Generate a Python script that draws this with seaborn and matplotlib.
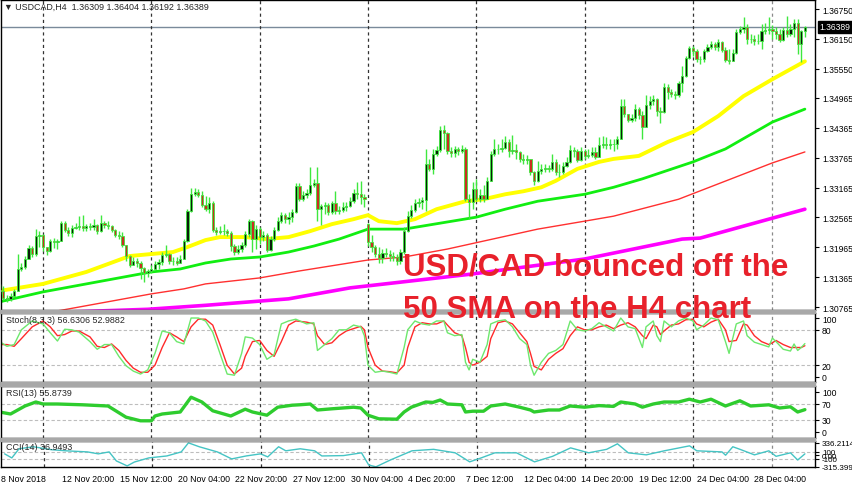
import numpy as np
import pandas as pd
import matplotlib
matplotlib.use("Agg")
import matplotlib.pyplot as plt
import matplotlib.transforms as mtransforms
from matplotlib.patches import Rectangle
import seaborn as sns

# ---------------------------------------------------------------
# USDCAD H4 (precios en pips sobre 1.3000)
# ---------------------------------------------------------------
opens = [110, 109, 95, 93, 99, 109, 153, 157, 173, 195,
         183, 219, 221, 197, 189, 209, 207, 209, 245, 231,
         225, 235, 237, 239, 235, 239, 237, 241, 229, 245,
         241, 239, 231, 221, 219, 201, 179, 161, 169, 165,
         155, 145, 149, 153, 163, 167, 181, 183, 169, 169,
         165, 173, 209, 269, 303, 307, 301, 281, 273, 285,
         231, 227, 229, 229, 225, 199, 187, 193, 201, 223,
         249, 213, 233, 217, 221, 191, 213, 231, 249, 261,
         253, 257, 267, 320, 293, 301, 305, 322, 326, 273,
         279, 281, 267, 285, 269, 271, 277, 279, 289, 305,
         303, 297, 243, 207, 197, 183, 175, 185, 183, 179,
         177, 169, 187, 229, 259, 271, 285, 287, 291, 364,
         354, 384, 392, 432, 426, 390, 386, 394, 390, 394,
         293, 287, 313, 293, 301, 293, 330, 384, 394, 394,
         396, 408, 390, 392, 388, 374, 372, 374, 348, 330,
         350, 354, 356, 354, 368, 348, 348, 360, 368, 392,
         390, 372, 390, 380, 382, 388, 378, 402, 404, 402,
         404, 404, 414, 480, 464, 452, 456, 474, 462, 438,
         482, 490, 494, 470, 468, 518, 508, 504, 502, 526,
         540, 577, 597, 591, 575, 575, 591, 599, 605, 599,
         609, 593, 573, 571, 587, 629, 635, 639, 615, 615,
         611, 611, 631, 633, 635, 631, 625, 613, 633, 625,
         635, 647, 605, 631]
closes = [109, 95, 93, 99, 109, 153, 157, 173, 195, 183,
          219, 221, 197, 189, 209, 207, 209, 245, 231, 225,
          235, 237, 239, 235, 239, 237, 241, 229, 245, 241,
          239, 231, 221, 219, 201, 179, 161, 169, 165, 155,
          145, 149, 153, 163, 167, 181, 183, 169, 169, 165,
          173, 209, 269, 303, 307, 301, 281, 273, 285, 231,
          227, 229, 229, 225, 199, 187, 193, 201, 223, 249,
          213, 233, 217, 221, 191, 213, 231, 249, 261, 253,
          257, 267, 320, 293, 301, 305, 322, 326, 273, 279,
          281, 267, 285, 269, 271, 277, 279, 289, 305, 303,
          297, 293, 207, 197, 183, 175, 185, 183, 179, 177,
          169, 187, 229, 259, 271, 285, 287, 291, 364, 354,
          384, 392, 432, 426, 390, 386, 394, 390, 394, 293,
          287, 313, 293, 301, 293, 330, 384, 394, 394, 396,
          408, 390, 392, 388, 374, 372, 374, 348, 330, 350,
          354, 356, 354, 368, 348, 348, 360, 368, 392, 390,
          372, 390, 380, 382, 388, 378, 402, 404, 402, 404,
          404, 414, 480, 464, 452, 456, 474, 462, 438, 482,
          490, 494, 470, 468, 518, 508, 504, 502, 526, 540,
          577, 597, 591, 575, 575, 591, 599, 605, 599, 609,
          593, 573, 571, 587, 629, 635, 639, 615, 615, 611,
          611, 631, 633, 635, 631, 625, 613, 633, 625, 635,
          647, 605, 631, 639]
highs = [123, 119, 101, 105, 113, 183, 165, 179, 201, 199,
         233, 229, 223, 197, 213, 215, 213, 249, 249, 237,
         241, 245, 259, 261, 243, 245, 253, 243, 261, 249,
         249, 241, 233, 229, 227, 201, 181, 177, 175, 169,
         157, 153, 161, 169, 173, 187, 201, 185, 177, 177,
         181, 213, 273, 315, 315, 313, 309, 299, 297, 289,
         237, 239, 243, 233, 229, 203, 201, 207, 229, 253,
         251, 241, 237, 229, 225, 219, 237, 257, 267, 265,
         267, 273, 326, 326, 309, 313, 358, 334, 358, 283,
         287, 285, 289, 309, 279, 287, 287, 297, 313, 328,
         330, 303, 245, 221, 201, 197, 193, 195, 191, 187,
         183, 193, 237, 269, 281, 293, 295, 297, 394, 374,
         394, 400, 440, 442, 428, 398, 400, 398, 402, 398,
         303, 327, 334, 313, 321, 338, 390, 414, 404, 414,
         420, 414, 422, 404, 390, 384, 382, 374, 350, 370,
         364, 364, 362, 384, 374, 364, 368, 378, 402, 398,
         394, 398, 394, 394, 398, 398, 418, 420, 418, 414,
         414, 420, 494, 494, 464, 464, 484, 478, 470, 502,
         500, 502, 496, 478, 526, 524, 514, 510, 530, 560,
         581, 601, 601, 595, 581, 595, 605, 611, 609, 615,
         611, 599, 595, 595, 635, 641, 659, 645, 625, 623,
         625, 645, 647, 659, 643, 639, 635, 639, 661, 645,
         655, 655, 633, 640]
lows = [103, 91, 87, 89, 97, 109, 149, 153, 173, 177,
        179, 197, 189, 181, 187, 195, 193, 209, 227, 219,
        217, 233, 231, 229, 229, 231, 231, 223, 227, 235,
        233, 227, 217, 213, 197, 169, 157, 161, 157, 133,
        127, 137, 145, 153, 153, 161, 177, 163, 161, 161,
        165, 173, 207, 267, 299, 297, 277, 269, 265, 227,
        221, 223, 221, 219, 189, 181, 183, 187, 197, 217,
        187, 193, 203, 209, 187, 189, 209, 229, 245, 245,
        243, 247, 265, 289, 289, 295, 301, 317, 249, 241,
        263, 261, 263, 263, 263, 267, 269, 277, 285, 293,
        283, 277, 199, 187, 177, 165, 165, 177, 169, 169,
        161, 163, 183, 227, 255, 267, 277, 273, 269, 350,
        344, 380, 388, 394, 384, 378, 378, 382, 386, 289,
        253, 273, 289, 287, 287, 293, 330, 380, 384, 388,
        394, 378, 384, 374, 368, 364, 364, 342, 321, 328,
        344, 348, 348, 350, 342, 338, 344, 358, 366, 378,
        368, 370, 374, 376, 378, 374, 378, 396, 394, 394,
        390, 394, 414, 458, 448, 448, 450, 454, 414, 438,
        474, 482, 460, 446, 466, 494, 498, 494, 498, 509,
        538, 575, 581, 568, 564, 568, 589, 595, 593, 591,
        589, 568, 564, 575, 585, 625, 627, 605, 607, 603,
        605, 595, 625, 625, 615, 615, 609, 611, 619, 621,
        619, 585, 568, 619]

# medias moviles (barra, pips)
sma50_idx = [0, 12, 24, 30, 36, 42, 48, 52, 57, 61, 68, 74, 80, 86, 92, 98, 102, 105, 110,
             115, 121, 129, 134, 140, 145, 150, 154, 160, 166, 170, 177, 185, 192, 199, 206, 214, 223]
sma50_val = [109, 123, 147, 163, 179, 183, 187, 197, 211, 217, 217, 213, 217, 229, 243, 253, 261, 249, 245,
             253, 273, 289, 293, 303, 309, 317, 330, 354, 368, 374, 380, 408, 428, 460, 500, 534, 570]
sma100_idx = [0, 12, 24, 36, 42, 50, 57, 64, 72, 80, 87, 94, 102, 112, 122, 132, 140, 149, 162,
              170, 178, 192, 201, 214, 223]
sma100_val = [87, 107, 123, 139, 147, 153, 165, 173, 177, 187, 199, 213, 233, 233, 245, 257, 273, 289, 303,
              317, 334, 368, 394, 448, 474]
sma200_idx = [0, 17, 42, 51, 57, 72, 83, 102, 112, 124, 134, 149, 162, 170, 188, 214, 223]
sma200_val = [50, 70, 103, 113, 123, 135, 149, 171, 177, 193, 209, 233, 249, 259, 293, 366, 388]
sma400_idx = [0, 41, 57, 80, 97, 131, 162, 189, 194, 214, 223]
sma400_val = [62, 72, 80, 93, 115, 143, 173, 213, 215, 255, 273]

# Estocastico (8,3,3)
stoch_idx = [0, 2, 4, 6, 9, 12, 14, 16, 18, 20, 22, 25, 27, 29, 31, 33, 35, 37, 39, 41,
             43, 45, 47, 49, 51, 53, 55, 57, 59, 61, 63, 65, 67, 68, 70, 72, 74, 76, 78, 80,
             82, 85, 87, 88, 90, 92, 94, 96, 98, 100, 101, 102, 104, 106, 108, 110, 112, 113, 115, 117,
             119, 121, 123, 124, 126, 128, 129, 130, 131, 133, 135, 136, 138, 140, 142, 144, 146, 147, 148, 150,
             152, 154, 156, 158, 160, 162, 164, 166, 168, 170, 172, 174, 176, 178, 179, 181, 182, 183, 184, 186,
             188, 190, 192, 193, 195, 197, 199, 201, 202, 204, 206, 207, 209, 211, 213, 214, 215, 217, 219, 220,
             221, 222, 223]
stoch_k = [60, 52, 55, 80, 95, 90, 75, 61, 81, 80, 76, 60, 47, 55, 55, 35, 19, 10, 5, 12,
           40, 78, 75, 60, 56, 100, 100, 95, 76, 40, 5, 3, 40, 68, 66, 55, 30, 38, 90, 95,
           98, 90, 92, 45, 55, 65, 80, 80, 88, 85, 70, 20, 8, 10, 8, 5, 50, 80, 95, 90,
           88, 95, 95, 75, 70, 72, 25, 12, 30, 25, 55, 90, 95, 97, 85, 65, 55, 20, 3, 25,
           40, 45, 55, 95, 80, 78, 82, 92, 85, 78, 100, 85, 82, 50, 85, 95, 70, 60, 95, 85,
           95, 100, 95, 80, 88, 100, 97, 60, 40, 90, 95, 70, 59, 55, 51, 66, 60, 47, 44, 56,
           45, 50, 56.6306]
stoch_d = [55, 55, 52, 65, 85, 95, 85, 70, 72, 78, 78, 68, 52, 50, 56, 45, 28, 15, 8, 8,
           20, 50, 75, 68, 60, 85, 98, 98, 88, 55, 20, 5, 15, 35, 60, 62, 45, 35, 60, 88,
           95, 93, 90, 70, 55, 58, 70, 78, 82, 86, 80, 50, 20, 10, 9, 7, 20, 50, 85, 92,
           90, 90, 95, 88, 75, 70, 50, 25, 20, 25, 35, 65, 92, 95, 90, 75, 60, 40, 18, 12,
           30, 40, 48, 70, 85, 80, 80, 85, 88, 82, 88, 92, 85, 70, 65, 88, 85, 72, 78, 88,
           90, 97, 98, 90, 85, 93, 98, 80, 60, 62, 90, 88, 70, 60, 55, 58, 62, 55, 50, 50,
           50, 50, 52.9882]

# RSI(13)
rsi_idx = [0, 3, 7, 10, 12, 16, 23, 30, 35, 39, 42, 43, 45, 50, 53, 56, 59, 64, 68, 70,
           74, 77, 81, 83, 86, 88, 92, 98, 100, 102, 105, 110, 112, 114, 118, 120, 122, 124, 128, 129,
           131, 134, 136, 140, 144, 147, 148, 152, 155, 158, 162, 166, 170, 172, 176, 178, 181, 184, 188, 191,
           194, 197, 201, 205, 208, 213, 216, 219, 221, 223]
rsi_val = [50, 45, 65, 75, 70, 70, 68, 65, 37, 28, 28, 40, 45, 50, 87, 75, 53, 40, 57, 50,
           42, 62, 67, 68, 70, 55, 58, 62, 60, 42, 33, 32, 50, 62, 75, 74, 80, 70, 68, 50,
           52, 52, 65, 70, 62, 55, 50, 55, 55, 65, 62, 66, 64, 75, 70, 62, 70, 75, 75, 82,
           75, 82, 65, 78, 65, 68, 60, 63, 50, 55.8739]

# CCI(14)
cci_idx = [1, 3, 5, 9, 14, 18, 24, 27, 30, 32, 35, 37, 41, 46, 50, 52, 55, 60, 64, 68,
           72, 74, 77, 79, 83, 87, 89, 95, 100, 102, 104, 108, 114, 120, 126, 130, 133, 137, 143, 148,
           153, 158, 163, 168, 171, 174, 179, 184, 191, 193, 200, 201, 203, 205, 209, 213, 215, 219, 221, 223]
cci_val = [37, -73, 175, 230, 150, 120, 90, 37, 90, -155, -290, -185, -73, -20, 90, 336.2114, 230, 90, -100, -20,
           37, -45, 230, 120, 175, 120, -20, -10, 65, -265, -315.3993, -130, 120, 160, 65, -180, -80, 65, 65, -180,
           -30, 200, 65, 160, 310, 65, 10, 120, 255, 120, 90, 0, 230, 160, 10, 120, -30, 65, -130, 36.9493]

# eje de tiempo
week_idx = [12, 42, 72, 102, 132, 162, 192, 214]
label_idx = [0, 17, 33, 49, 65, 81, 97, 113, 129, 145, 161, 177, 193, 209]
time_labels = ["8 Nov 2018", "12 Nov 20:00", "15 Nov 12:00", "20 Nov 04:00", "22 Nov 20:00",
               "27 Nov 12:00", "30 Nov 04:00", "4 Dec 20:00", "7 Dec 12:00", "12 Dec 04:00",
               "14 Dec 20:00", "19 Dec 12:00", "24 Dec 04:00", "28 Dec 04:00"]
price_ticks = [1.36750, 1.36150, 1.35550, 1.34965, 1.34365, 1.33765, 1.33165,
               1.32565, 1.31965, 1.31365, 1.30765]
last_price = 1.36389


def to_price(v):
    return np.array(v, dtype=float) / 10000 + 1.30


sns.set_style("white")
plt.rcParams['font.family'] = ['Liberation Sans', 'DejaVu Sans']

W, H = 852, 485
fig = plt.figure(figsize=(W / 100, H / 100), dpi=100)


def box(top, bottom, left=1, right=815):
    return [left / W, 1 - bottom / H, (right - left) / W, (bottom - top) / H]


ax = fig.add_axes(box(1, 311))
ax_st = fig.add_axes(box(314, 383))
ax_rsi = fig.add_axes(box(387, 439))
ax_cci = fig.add_axes(box(441.5, 468))
panels = [ax, ax_st, ax_rsi, ax_cci]

# separadores grises entre paneles
for top, bottom in [(311, 314), (383, 387), (439, 441.5)]:
    fig.patches.append(Rectangle((0, 1 - bottom / H), 815 / W, (bottom - top) / H,
                                 transform=fig.transFigure, color='#a8a8a8', zorder=0))

n = len(closes)
x = np.arange(n)
o = to_price(opens)
c = to_price(closes)
h = to_price(highs)
l = to_price(lows)

wick = '#3ee83e'
ax.vlines(x, l, h, color=wick, lw=1, zorder=3)
bull = c >= o
fill = np.where(bull, '#0a1f0a', '#c83020')
body_low = np.minimum(o, c)
body_h = np.maximum(np.abs(c - o), 0.00005)
ax.bar(x, body_h, bottom=body_low, width=0.62, color=fill, edgecolor=wick, linewidth=0.6, zorder=4)

# medias moviles
sns.lineplot(x=sma400_idx, y=to_price(sma400_val), ax=ax, color='#ff00ff', linewidth=2.6, zorder=2)
sns.lineplot(x=sma200_idx, y=to_price(sma200_val), ax=ax, color='#ff3030', linewidth=1.0, zorder=2)
sns.lineplot(x=sma100_idx, y=to_price(sma100_val), ax=ax, color='#11ee11', linewidth=2.0, zorder=2)
sns.lineplot(x=sma50_idx, y=to_price(sma50_val), ax=ax, color='#ffff00', linewidth=2.8, zorder=2)

ax.axhline(last_price, color='#7a8a9a', lw=1, zorder=1)

# indicadores
lvl = dict(color='#bdbdbd', lw=0.8, ls=(0, (3, 2)), zorder=1)
ax_st.axhline(80, **lvl)
ax_st.axhline(20, **lvl)
sns.lineplot(x=stoch_idx, y=stoch_d, ax=ax_st, color='#ff2a2a', linewidth=1.0)
sns.lineplot(x=stoch_idx, y=stoch_k, ax=ax_st, color='#6de86d', linewidth=1.0)

ax_rsi.axhline(70, **lvl)
ax_rsi.axhline(30, **lvl)
sns.lineplot(x=rsi_idx, y=rsi_val, ax=ax_rsi, color='#2ecc2e', linewidth=2.4)

ax_cci.axhline(100, **lvl)
ax_cci.axhline(-100, **lvl)
sns.lineplot(x=cci_idx, y=cci_val, ax=ax_cci, color='#45c4c4', linewidth=1.0)

# limites
ax.set_ylim(1.30706, 1.36931)
ax_st.set_ylim(-8.5, 108.5)
ax_rsi.set_ylim(-15, 115)
ax_cci.set_ylim(-320, 400)

for a in panels:
    a.set_xlim(0.36, 225.8)
    a.set_xlabel("")
    a.set_ylabel("")
    for s in a.spines.values():
        s.set_color('black')
        s.set_linewidth(1)
    a.yaxis.tick_right()
    a.tick_params(axis='y', labelsize=6.2, length=3, pad=2, colors='black')
    for i, g in enumerate(week_idx):
        col = '#8a8a8a' if i == len(week_idx) - 1 else '#333333'
        a.axvline(g, color=col, lw=0.9, ls=(0, (2.5, 2.5)), zorder=1)
    if a is not ax_cci:
        a.set_xticks([])

ax.set_yticks(price_ticks)
ax.set_yticklabels([f"{p:.5f}" for p in price_ticks])
ax_st.set_yticks([100, 80, 20, 0])
ax_rsi.set_yticks([100, 70, 30, 0])
ax_cci.set_yticks([336.2114, 100, 0, -100, -315.3993])
ax_cci.set_yticklabels(["336.2114", "100", "0.00", "-100", "-315.3993"])
ax_cci.tick_params(axis='y', labelsize=5.8, pad=2)

ax_cci.set_xticks(label_idx)
ax_cci.set_xticklabels(time_labels, ha='left')
ax_cci.tick_params(axis='x', labelsize=6.3, length=3, pad=2, colors='black')

# etiqueta del precio actual
trans = mtransforms.blended_transform_factory(ax.transAxes, ax.transData)
ax.text(1.006, last_price, "1.36389", transform=trans, va='center', ha='left', fontsize=6.2,
        color='white', bbox=dict(boxstyle='square,pad=0.2', facecolor='black', edgecolor='black'))

# textos de cabecera
fig.text(4 / W, 1 - 7 / H, "\u25bc USDCAD,H4  1.36309 1.36404 1.36192 1.36389", fontsize=6.4,
         va='center', ha='left')
fig.text(6 / W, 1 - 321 / H, "Stoch(8,3,3) 56.6306 52.9882", fontsize=6.4, va='center', ha='left')
fig.text(6 / W, 1 - 394 / H, "RSI(13) 55.8739", fontsize=6.4, va='center', ha='left')
fig.text(6 / W, 1 - 448 / H, "CCI(14) 36.9493", fontsize=6.4, va='center', ha='left')

# comentario en rojo
fig.text(403 / W, 1 - 276 / H, "USD/CAD bounced off the", fontsize=22.5, fontweight='bold',
         color='#e8212b', va='baseline', ha='left', zorder=10)
fig.text(403 / W, 1 - 318 / H, "50 SMA on the H4 chart", fontsize=22.5, fontweight='bold',
         color='#e8212b', va='baseline', ha='left', zorder=10)

fig.savefig("out.png", dpi=100)
